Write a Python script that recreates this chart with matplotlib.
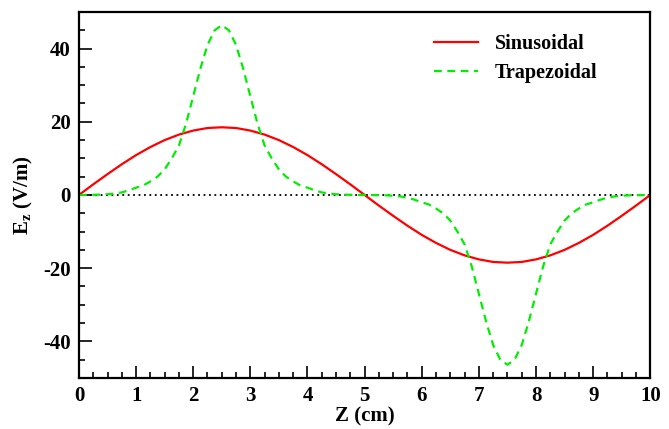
import matplotlib
matplotlib.use("Agg")
import matplotlib.pyplot as plt
from matplotlib.ticker import MultipleLocator
import numpy as np

plt.rcParams['font.family'] = ['Liberation Serif', 'DejaVu Serif']
plt.rcParams['font.weight'] = 'bold'
plt.rcParams['axes.unicode_minus'] = False
plt.rcParams['mathtext.fontset'] = 'custom'
plt.rcParams['mathtext.rm'] = 'Liberation Serif:bold'
plt.rcParams['mathtext.it'] = 'Liberation Serif:bold:italic'
plt.rcParams['mathtext.bf'] = 'Liberation Serif:bold'

# sinusoidal field, sampled every 0.25 cm
z_sin = np.linspace(0, 10, 41)
e_sin = [0, 2.9, 5.7, 8.4, 10.9, 13.1, 15.0, 16.5, 17.6, 18.3,
         18.5, 18.3, 17.6, 16.5, 15.0, 13.1, 10.9, 8.4, 5.7, 2.9,
         0, -2.9, -5.7, -8.4, -10.9, -13.1, -15.0, -16.5, -17.6, -18.3,
         -18.5, -18.3, -17.6, -16.5, -15.0, -13.1, -10.9, -8.4, -5.7, -2.9,
         0]

# trapezoidal field, sampled every 0.125 cm
z_trap = np.linspace(0, 10, 81)
e_trap = [0, 0.02, 0.05, 0.1, 0.2, 0.4, 0.7, 1.3, 2.0, 2.6,
          3.7, 5.0, 7.0, 10.0, 13.5, 19.5, 27.0, 34.5, 41.0, 45.0,
          46.4,
          45.0, 41.0, 34.5, 27.0, 19.5, 13.5, 10.0, 7.0, 5.0, 3.7,
          2.6, 2.0, 1.3, 0.7, 0.4, 0.2, 0.1, 0.05, 0.02, 0,
          -0.02, -0.05, -0.1, -0.2, -0.4, -0.7, -1.3, -2.0, -2.6, -3.7,
          -5.0, -7.0, -10.0, -13.5, -19.5, -27.0, -34.5, -41.0, -45.0,
          -46.4,
          -45.0, -41.0, -34.5, -27.0, -19.5, -13.5, -10.0, -7.0, -5.0, -3.7,
          -2.6, -2.0, -1.3, -0.7, -0.4, -0.2, -0.1, -0.05, -0.02, 0]

fig = plt.figure(figsize=(6.69, 4.29), dpi=100)
ax = fig.add_axes([0.118, 0.119, 0.854, 0.853])

ax.axhline(0, color='black', linestyle=(0, (1, 2)), linewidth=1.3)
ax.plot(z_sin, e_sin, color='#ff0000', linewidth=1.6, label='Sinusoidal')
ax.plot(z_trap, e_trap, color='#00ee00', linewidth=1.6,
        linestyle=(0, (3.5, 2.5)), label='Trapezoidal')

ax.set_xlim(0, 10)
ax.set_ylim(-50, 50)
ax.xaxis.set_major_locator(MultipleLocator(1))
ax.xaxis.set_minor_locator(MultipleLocator(0.25))
ax.yaxis.set_major_locator(MultipleLocator(20))
ax.yaxis.set_minor_locator(MultipleLocator(5))
ax.tick_params(which='both', direction='in', top=False, right=False,
               labelsize=15, width=1.2, pad=6)
ax.tick_params(which='major', length=9)
ax.tick_params(which='minor', length=4.5)
for s in ax.spines.values():
    s.set_linewidth(1.6)

ax.set_xlabel('Z (cm)', fontsize=15, fontweight='bold', labelpad=0)
ax.set_ylabel(r'$\mathrm{E_z}$ (V/m)', fontsize=15, fontweight='bold', labelpad=6)

ax.legend(loc='upper left', bbox_to_anchor=(0.59, 0.99), frameon=False,
          fontsize=14.5, handlelength=2.2, handletextpad=0.8, labelspacing=0.45)

fig.savefig('out.png', dpi=100)
